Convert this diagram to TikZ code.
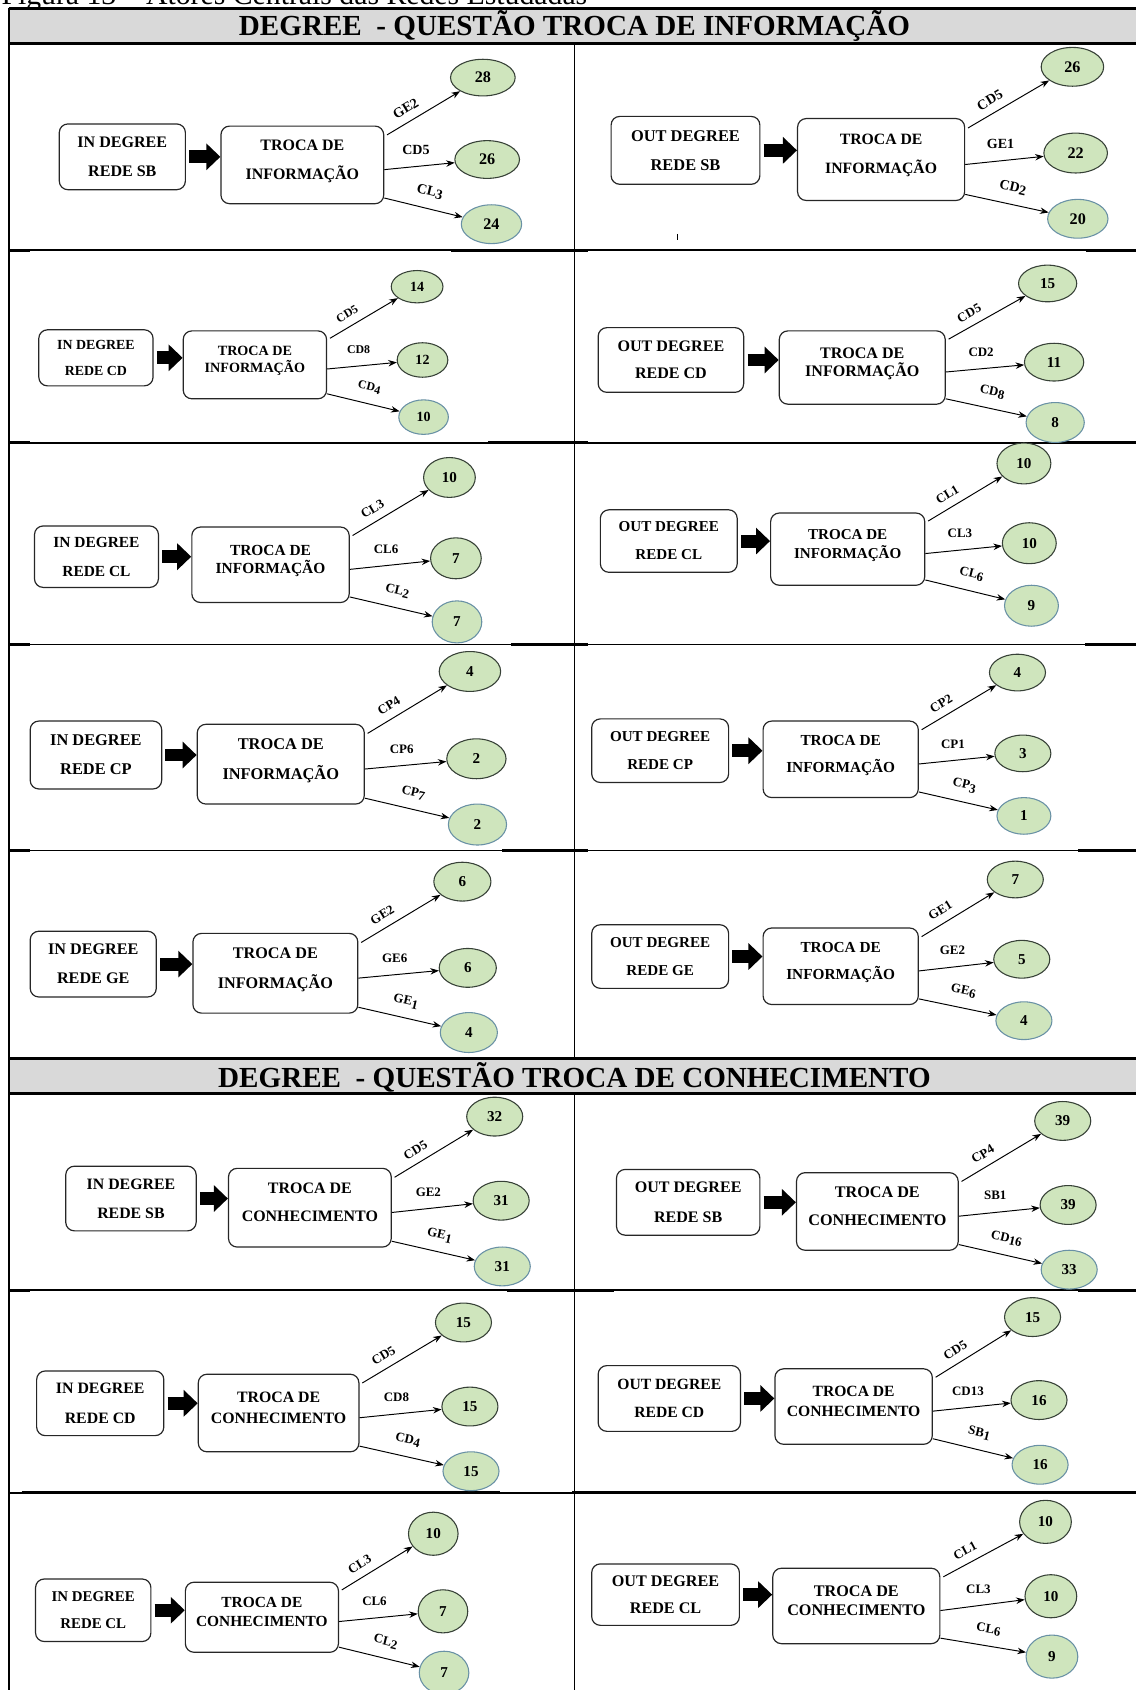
\documentclass[tikz,border=0pt]{standalone}
\usepackage{fontspec}
\setmainfont{Liberation Serif}
\usetikzlibrary{arrows.meta,shapes.geometric,calc}

\definecolor{ellfill}{RGB}{207,229,189}
\definecolor{elldraw}{RGB}{55,65,55}
\definecolor{elldrawlow}{RGB}{105,145,165}
\definecolor{bandgray}{RGB}{217,217,217}

\tikzset{
  roundbox/.style={draw=black!85, line width=0.55pt, rounded corners=4pt, fill=white,
                   align=center, inner sep=0pt},
  midtext/.style={text depth=5pt},
  numell/.style={ellipse, draw=elldraw, fill=ellfill, line width=0.5pt, inner sep=0pt},
  lowell/.style={draw=elldrawlow},
  link/.style={line width=0.45pt, -{Stealth[length=4pt,width=3pt]}},
  lbl/.style={inner sep=1pt},
  fatarrow/.style={line width=6pt, -{Triangle[length=6.5pt,width=12pt]}, shorten <=1.5pt},
  rule/.style={line width=0.75pt},
  ruleaccent/.style={line width=1.4pt},
  bandrule/.style={line width=1.4pt},
  bandtitle/.style={anchor=base, inner sep=0pt, font=\bfseries\fontsize{13.5}{16}\selectfont},
}

% rounded box: style, name, x1, y1, x2, y2, font size, line skip, text
\newcommand\shapebox[9]{%
  \pgfmathsetmacro\boxW{(#5-#3)*0.5}%
  \pgfmathsetmacro\boxH{(#6-#4)*0.5}%
  \node[roundbox,#1,minimum width=\boxW pt,minimum height=\boxH pt,
        font=\bfseries\fontsize{#7}{#8}\selectfont] (#2) at ({(#3+#5)/2},{(#4+#6)/2}) {#9};}
\newcommand\srcbox[8]{\shapebox{}{#1}{#2}{#3}{#4}{#5}{#6}{#7}{#8}}
\newcommand\midbox[8]{\shapebox{midtext}{#1}{#2}{#3}{#4}{#5}{#6}{#7}{#8}}

% value ellipse: [style] name, cx, cy, rx, ry, font size, value
\newcommand\enode[8][]{%
  \node[numell,#1,minimum width=#5 pt,minimum height=#6 pt,
        font=\bfseries\fontsize{#7}{#7}\selectfont] (#2) at (#3,#4) {#8};}

% block arrow between the two boxes
\newcommand\fat[2]{\draw[fatarrow] (#1.east) -- (#1.east -| #2.west);}

% lowered digits of the lower link labels
\newcommand\lowdig[1]{\raisebox{-1.1pt}{#1}}

% three labelled links: box, top, middle, bottom, labels, font size
\newcommand\links[8]{%
  \begin{scope}[every node/.append style={font=\bfseries\fontsize{#8}{#8}\selectfont}]
  \draw[link, shorten <=1.5pt] ($(#1.north east)!.14!(#1.south east)$) -- (#2)
     node[lbl, sloped, above=2.6pt, pos=.37] {#5};
  \draw[link] ($(#1.north east)!.56!(#1.south east)$) -- (#3)
     node[lbl, above=4.5pt, pos=.45] {#6};
  \draw[link] ($(#1.north east)!.92!(#1.south east)$) -- (#4)
     node[lbl, sloped, above=3.8pt, pos=.53] {#7};
  \end{scope}}

\begin{document}
\begin{tikzpicture}[x=0.5pt,y=-0.5pt]
\useasboundingbox (0,0) rectangle (1054,1568);

% caption line, cut by the top of the page
\begin{scope}
  \clip (0,0) rectangle (1054,8);
  \node[anchor=base west, inner sep=0pt, font=\fontsize{13.8}{16}\selectfont] (cap) at (1,4.5)
    {Figura 13 – Atores Centrais das Redes Estudadas};
\end{scope}

% ---------- table frame ----------
\fill[bandgray] (8,8) rectangle (1054,40);
\fill[bandgray] (8,982) rectangle (1054,1015);
\draw[bandrule] (8,8) -- (1054,8);
\draw[bandrule] (8,40) -- (1054,40);
\draw[bandrule] (8,982) -- (1054,982);
\draw[bandrule] (8,1015) -- (1054,1015);
\draw[line width=1pt] (8,7.3) -- (8,1568);
\draw[line width=0.6pt] (533,40) -- (533,982);
\draw[line width=0.6pt] (533,1015) -- (533,1568);
\foreach \yy in {232,411,598,789,1197,1385}
  \draw[rule] (8,\yy) -- (1054,\yy);
% heavier stretches along the row rules
\foreach \yy/\la/\ra in {232/418/1008, 411/453/986, 598/474/1007, 789/466/1000}{
  \draw[ruleaccent] (8,\yy) -- (28,\yy);
  \draw[ruleaccent] (\la,\yy) -- (533,\yy);
  \draw[ruleaccent] (533,\yy) -- (546,\yy);
  \draw[ruleaccent] (\ra,\yy) -- (1054,\yy);
}
\draw[ruleaccent] (8,1197) -- (28,1197);
\draw[ruleaccent] (470,1197) -- (570,1197);
\draw[ruleaccent] (1000,1197) -- (1054,1197);
\draw[ruleaccent] (20,1385) -- (464,1385);
\draw[ruleaccent] (531,1385) -- (1054,1385);

\node[bandtitle] (t1) at (533,33) {DEGREE\ \ - QUESTÃO TROCA DE INFORMAÇÃO};
\node[bandtitle] (t2) at (533,1009) {DEGREE\ \ - QUESTÃO TROCA DE CONHECIMENTO};
\draw[line width=0.5pt] (629,217) -- (629,223);

% ---------- TROCA DE INFORMAÇÃO ----------
% IN DEGREE REDE SB
\srcbox{s1}{55}{115}{172}{176}{7.45}{13.5}{IN DEGREE\\REDE SB}
\midbox{m1}{205}{117}{356}{189}{7.4}{13.5}{TROCA DE\\INFORMAÇÃO}
\fat{s1}{m1}
\enode{a1}{448}{72}{30}{17}{7.5}{28}
\enode{b1}{452}{148}{30}{17.5}{7.5}{26}
\enode[lowell]{c1}{456}{208}{28}{18}{7.5}{24}
\links{m1}{a1}{b1}{c1}{GE2}{CD5}{CL\lowdig{3}}{6.5}

% OUT DEGREE REDE SB
\srcbox{s2}{567}{108}{705}{171}{7.6}{13.5}{OUT DEGREE\\REDE SB}
\midbox{m2}{740}{110}{895}{186}{7.3}{13.5}{TROCA DE\\INFORMAÇÃO}
\fat{s2}{m2}
\enode{a2}{995}{62}{29}{18}{7.5}{26}
\enode{b2}{998}{142}{29.5}{18.5}{7.5}{22}
\enode[lowell]{c2}{1000}{203}{28}{18}{7.5}{20}
\links{m2}{a2}{b2}{c2}{CD5}{GE1}{CD\lowdig{2}}{6.5}

% IN DEGREE REDE CD
\srcbox{s3}{36}{306}{142}{358}{6.45}{12}{IN DEGREE\\REDE CD}
\midbox{m3}{170}{307}{303}{370}{6.55}{8}{TROCA DE\\INFORMAÇÃO}
\fat{s3}{m3}
\enode{a3}{387}{266}{24}{15}{6.5}{14}
\enode{b3}{392}{334}{23.5}{16}{6.5}{12}
\enode[lowell]{c3}{393}{387}{23}{16}{6.5}{10}
\links{m3}{a3}{b3}{c3}{CD5}{CD8}{CD\lowdig{4}}{5.5}

% OUT DEGREE REDE CD
\srcbox{s4}{555}{304}{690}{364}{7.45}{12.5}{OUT DEGREE\\REDE CD}
\midbox{m4}{723}{307}{877}{375}{7.45}{8.5}{TROCA DE\\INFORMAÇÃO}
\fat{s4}{m4}
\enode{a4}{972}{263}{27}{17}{7}{15}
\enode{b4}{978}{336}{27.5}{17.5}{7}{11}
\enode[lowell]{c4}{979}{392}{27}{18.5}{7}{8}
\links{m4}{a4}{b4}{c4}{CD5}{CD2}{CD\lowdig{8}}{6}

% IN DEGREE REDE CL
\srcbox{s5}{32}{488}{147}{545}{7.15}{13.5}{IN DEGREE\\REDE CL}
\midbox{m5}{178}{489}{324}{559}{7.15}{8.5}{TROCA DE\\INFORMAÇÃO}
\fat{s5}{m5}
\enode{a5}{417}{443}{24}{18.5}{7}{10}
\enode{b5}{423}{518}{23.5}{19}{7}{7}
\enode[lowell]{c5}{424}{577}{23}{19.5}{7}{7}
\links{m5}{a5}{b5}{c5}{CL3}{CL6}{CL\lowdig{2}}{6}

% OUT DEGREE REDE CL
\srcbox{s6}{557}{473}{684}{531}{7}{13}{OUT DEGREE\\REDE CL}
\midbox{m6}{715}{476}{858}{543}{7}{9}{TROCA DE\\INFORMAÇÃO}
\fat{s6}{m6}
\enode{a6}{950}{430}{25}{19}{7}{10}
\enode{b6}{955}{504}{25}{19}{7}{10}
\enode[lowell]{c6}{957}{562}{25}{19}{7}{9}
\links{m6}{a6}{b6}{c6}{CL1}{CL3}{CL\lowdig{6}}{6}

% IN DEGREE REDE CP
\srcbox{s7}{28}{669}{150}{732}{7.6}{13.5}{IN DEGREE\\REDE CP}
\midbox{m7}{183}{672}{338}{746}{7.6}{14}{TROCA DE\\INFORMAÇÃO}
\fat{s7}{m7}
\enode{a7}{436}{623}{28.5}{18.5}{7}{4}
\enode{b7}{442}{704}{27.5}{18.5}{7}{2}
\enode[lowell]{c7}{443}{765}{27}{19}{7}{2}
\links{m7}{a7}{b7}{c7}{CP4}{CP6}{CP\lowdig{7}}{6}

% OUT DEGREE REDE CP
\srcbox{s8}{549}{667}{676}{726}{7}{13}{OUT DEGREE\\REDE CP}
\midbox{m8}{708}{669}{852}{740}{7.1}{12.5}{TROCA DE\\INFORMAÇÃO}
\fat{s8}{m8}
\enode{a8}{944}{624}{26}{17}{7}{4}
\enode{b8}{949}{699}{26}{17}{7}{3}
\enode[lowell]{c8}{950}{757}{25}{17}{7}{1}
\links{m8}{a8}{b8}{c8}{CP2}{CP1}{CP\lowdig{3}}{6}

% IN DEGREE REDE GE
\srcbox{s9}{28}{864}{145}{925}{7.5}{13.5}{IN DEGREE\\REDE GE}
\midbox{m9}{179}{866}{332}{940}{7.5}{14}{TROCA DE\\INFORMAÇÃO}
\fat{s9}{m9}
\enode{a9}{429}{818}{26.5}{18}{7}{6}
\enode{b9}{434}{898}{26.5}{18}{7}{6}
\enode[lowell]{c9}{435}{958}{26.5}{18.5}{7}{4}
\links{m9}{a9}{b9}{c9}{GE2}{GE6}{GE\lowdig{1}}{6}

% OUT DEGREE REDE GE
\srcbox{s10}{549}{858}{676}{917}{7}{13}{OUT DEGREE\\REDE GE}
\midbox{m10}{708}{861}{852}{932}{7.1}{12.5}{TROCA DE\\INFORMAÇÃO}
\fat{s10}{m10}
\enode{a10}{942}{816}{26}{17}{7}{7}
\enode{b10}{948}{890}{26}{17.5}{7}{5}
\enode[lowell]{c10}{950}{947}{26}{17.5}{7}{4}
\links{m10}{a10}{b10}{c10}{GE1}{GE2}{GE\lowdig{6}}{6}

% ---------- TROCA DE CONHECIMENTO ----------
% IN DEGREE REDE SB
\srcbox{s11}{61}{1082}{182}{1142}{7.35}{13.5}{IN DEGREE\\REDE SB}
\midbox{m11}{212}{1084}{363}{1157}{7.4}{13}{TROCA DE\\CONHECIMENTO}
\fat{s11}{m11}
\enode{a11}{459}{1036}{26}{18}{7}{32}
\enode{b11}{465}{1114}{26}{18}{7}{31}
\enode[lowell]{c11}{466}{1175}{26}{18}{7}{31}
\links{m11}{a11}{b11}{c11}{CD5}{GE2}{GE\lowdig{1}}{6}

% OUT DEGREE REDE SB
\srcbox{s12}{572}{1085}{705}{1146}{7.45}{13.5}{OUT DEGREE\\REDE SB}
\midbox{m12}{739}{1088}{889}{1160}{7.5}{13}{TROCA DE\\CONHECIMENTO}
\fat{s12}{m12}
\enode{a12}{986}{1040}{26}{18}{7}{39}
\enode{b12}{991}{1118}{26}{18}{7}{39}
\enode[lowell]{c12}{992}{1178}{26}{18}{7}{33}
\links{m12}{a12}{b12}{c12}{CP4}{SB1}{CD\lowdig{16}}{6}

% IN DEGREE REDE CD
\srcbox{s13}{34}{1272}{152}{1332}{7.35}{13.5}{IN DEGREE\\REDE CD}
\midbox{m13}{184}{1275}{333}{1347}{7.35}{9.5}{TROCA DE\\CONHECIMENTO}
\fat{s13}{m13}
\enode{a13}{430}{1227}{26}{18}{7}{15}
\enode{b13}{436}{1305}{26}{18}{7}{15}
\enode[lowell]{c13}{437}{1365}{26}{18}{7}{15}
\links{m13}{a13}{b13}{c13}{CD5}{CD8}{CD\lowdig{4}}{6}

% OUT DEGREE REDE CD
\srcbox{s14}{555}{1267}{687}{1328}{7.25}{13}{OUT DEGREE\\REDE CD}
\midbox{m14}{719}{1270}{865}{1340}{7.25}{9}{TROCA DE\\CONHECIMENTO}
\fat{s14}{m14}
\enode{a14}{958}{1222}{26}{18}{7}{15}
\enode{b14}{964}{1299}{26}{18}{7}{16}
\enode[lowell]{c14}{965}{1359}{26}{18}{7}{16}
\links{m14}{a14}{b14}{c14}{CD5}{CD13}{SB\lowdig{1}}{6}

% IN DEGREE REDE CL
\srcbox{s15}{33}{1465}{140}{1523}{6.9}{12.5}{IN DEGREE\\REDE CL}
\midbox{m15}{172}{1468}{314}{1533}{7.15}{9}{TROCA DE\\CONHECIMENTO}
\fat{s15}{m15}
\enode{a15}{402}{1423}{23}{20}{7}{10}
\enode{b15}{411}{1495}{23}{20}{7}{7}
\enode[lowell]{c15}{412}{1552}{23}{20}{7}{7}
\links{m15}{a15}{b15}{c15}{CL3}{CL6}{CL\lowdig{2}}{6}

% OUT DEGREE REDE CL
\srcbox{s16}{549}{1451}{686}{1508}{7.5}{12.5}{OUT DEGREE\\REDE CL}
\midbox{m16}{717}{1455}{872}{1525}{7.5}{8.5}{TROCA DE\\CONHECIMENTO}
\fat{s16}{m16}
\enode{a16}{970}{1412}{24}{20}{7}{10}
\enode{b16}{975}{1481}{24}{20}{7}{10}
\enode[lowell]{c16}{976}{1537}{24}{20}{7}{9}
\links{m16}{a16}{b16}{c16}{CL1}{CL3}{CL\lowdig{6}}{6}

\end{tikzpicture}
\end{document}
